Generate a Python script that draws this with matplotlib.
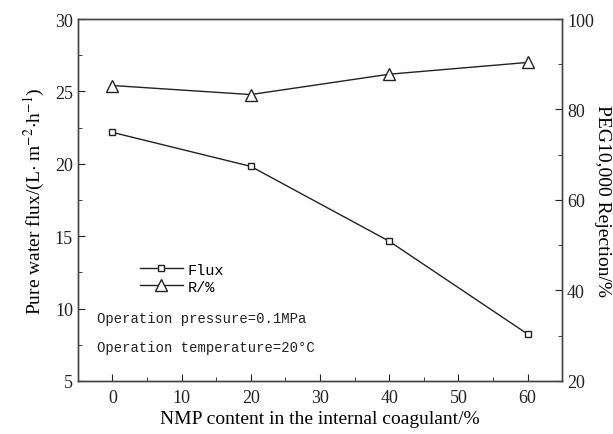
import matplotlib
matplotlib.use('Agg')
import matplotlib.pyplot as plt
from matplotlib.ticker import MultipleLocator

# data
nmp = [0, 20, 40, 60]
flux = [22.17, 19.82, 14.65, 8.24]
rejection = [85.3, 83.3, 87.8, 90.4]

plt.rcParams['font.family'] = 'Liberation Serif'
plt.rcParams['mathtext.fontset'] = 'stix'

fig = plt.figure(figsize=(6.13, 4.35), dpi=100)
ax = fig.add_axes([0.127, 0.122, 0.790, 0.832])
ax2 = ax.twinx()

col = '#222222'
l1, = ax.plot(nmp, flux, color=col, lw=1.0, marker='s', ms=5, mfc='white',
              mec=col, mew=1.0, label='Flux')
l2, = ax2.plot(nmp, rejection, color=col, lw=1.0, marker='^', ms=9, mfc='white',
               mec=col, mew=1.0, label='R/%')

ax.set_xlim(-5, 65)
ax.set_ylim(5, 30)
ax2.set_ylim(20, 100)

ax.xaxis.set_major_locator(MultipleLocator(10))
ax.xaxis.set_minor_locator(MultipleLocator(5))
ax.yaxis.set_major_locator(MultipleLocator(5))
ax.yaxis.set_minor_locator(MultipleLocator(2.5))
ax2.yaxis.set_major_locator(MultipleLocator(20))
ax2.yaxis.set_minor_locator(MultipleLocator(10))

for a in (ax, ax2):
    a.tick_params(which='both', direction='in', labelsize=13, colors='#222222')
    a.tick_params(which='major', length=5)
    a.tick_params(which='minor', length=3)
    for s in a.spines.values():
        s.set_color('#444444')
        s.set_linewidth(1.0)
ax.tick_params(top=False, right=False)
ax.tick_params(axis='x', pad=6)

ax.set_xlabel('NMP content in the internal coagulant/%', fontsize=14, labelpad=3)
ax.set_ylabel(r'Pure water flux/(L$\cdot$ m$^{-2}$$\cdot$h$^{-1}$)', fontsize=14, labelpad=6)
ax2.set_ylabel('PEG10,000 Rejection/%', fontsize=14, rotation=270, labelpad=12)

ax.legend([l1, l2], ['Flux', 'R/%'], loc='upper left', bbox_to_anchor=(0.1, 0.365),
          frameon=False, prop={'family': 'Liberation Mono', 'size': 11},
          handlelength=2.8, handletextpad=0.3, labelspacing=0.2)

ax.text(0.04, 0.175, 'Operation pressure=0.1MPa', transform=ax.transAxes,
        fontsize=10, family='Liberation Mono', va='center', color='#222222')
ax.text(0.04, 0.093, 'Operation temperature=20°C', transform=ax.transAxes,
        fontsize=10, family='Liberation Mono', va='center', color='#222222')

fig.savefig('out.png', dpi=100)
